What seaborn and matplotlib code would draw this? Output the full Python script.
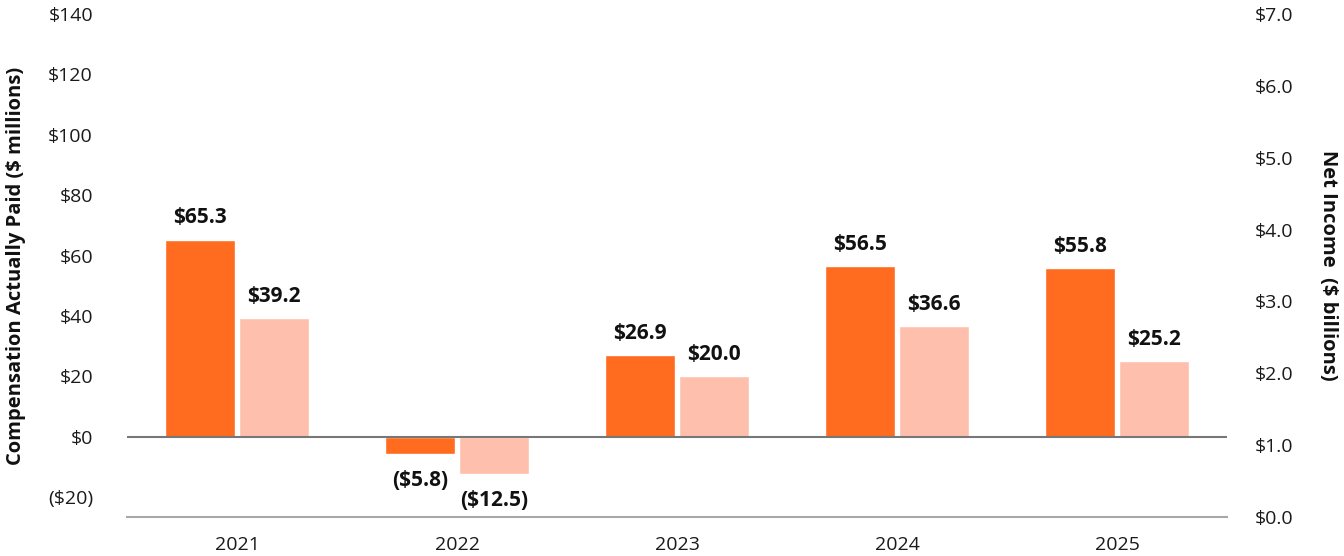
import pandas as pd
import matplotlib.pyplot as plt
import seaborn as sns

# ---------- DATA ----------
years = ["2021", "2022", "2023", "2024", "2025"]
peo_cap = [65.3, -5.8, 26.9, 56.5, 55.8]
neo_cap = [39.2, -12.5, 20.0, 36.6, 25.2]
left_ticks = [-20, 0, 20, 40, 60, 80, 100, 120, 140]
right_ticks = [0, 1, 2, 3, 4, 5, 6, 7]
# ---------------------------

df = pd.DataFrame({
    "year": years * 2,
    "cap": peo_cap + neo_cap,
    "series": ["PEO"] * len(years) + ["Other NEOs"] * len(years),
})

sns.set_theme(style="white")
plt.rcParams["font.family"] = ["Open Sans", "DejaVu Sans"]

fig = plt.figure(figsize=(13.44, 5.56), dpi=100)
ax = fig.add_axes([0.0945, 0.0701, 0.8185, 0.9047])

palette = {"PEO": "#FF6B1F", "Other NEOs": "#FFBFAD"}
sns.barplot(data=df, x="year", y="cap", hue="series", palette=palette,
            width=0.668, gap=0.05, ax=ax, legend=False, saturation=1)

ax.set_ylim(-26.6, 140)
ax.set_xlim(-0.5, len(years) - 0.5)
ax.set_yticks(left_ticks)
ax.set_yticklabels([f"(${-t})" if t < 0 else f"${t}" for t in left_ticks],
                   fontsize=14, color="#1a1a1a")
ax.tick_params(axis="y", length=0, pad=24.5)
ax.tick_params(axis="x", length=0, pad=14, labelsize=14, labelcolor="#1a1a1a")
ax.set_xlabel("")
ax.set_ylabel("Compensation Actually Paid ($ millions)", fontsize=14.5,
              fontweight="bold", va="center", color="#111111")
ax.yaxis.set_label_coords(-0.101, 0.5)

for s in ["top", "right", "left"]:
    ax.spines[s].set_visible(False)
ax.spines["bottom"].set_color("#A8A8A8")
ax.spines["bottom"].set_linewidth(1.5)
ax.axhline(0, color="#777777", lw=1.5, zorder=3)

for cont in ax.containers:
    for bar in cont:
        v = bar.get_height()
        x = bar.get_x() + bar.get_width() / 2
        if v >= 0:
            ax.annotate(f"${v:.1f}", (x, v), xytext=(0, 8), textcoords="offset points",
                        ha="center", va="bottom", fontsize=15, fontweight="bold",
                        color="#111111")
        else:
            ax.annotate(f"(${-v:.1f})", (x, v), xytext=(0, -11), textcoords="offset points",
                        ha="center", va="top", fontsize=15, fontweight="bold",
                        color="#111111")

ax2 = ax.twinx()
ax2.set_ylim(0, 7)
ax2.set_yticks(right_ticks)
ax2.set_yticklabels([f"${t:.1f}" for t in right_ticks], fontsize=14, color="#1a1a1a")
ax2.tick_params(axis="y", length=0, pad=20)
ax2.set_ylabel("Net Income  ($ billions)", fontsize=14.5, fontweight="bold",
               rotation=270, va="center", color="#111111")
ax2.yaxis.set_label_coords(1.092, 0.5)
for s in ax2.spines.values():
    s.set_visible(False)
ax2.grid(False)

fig.savefig("out.png", dpi=100)
